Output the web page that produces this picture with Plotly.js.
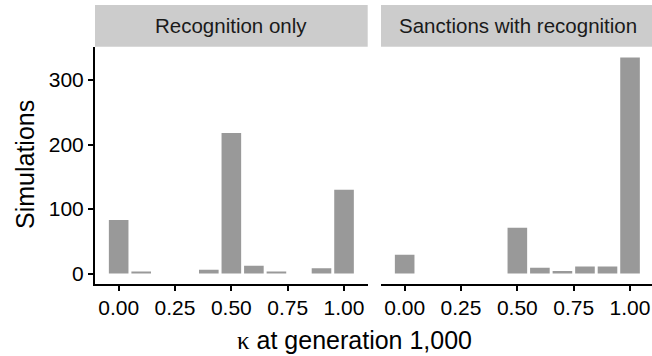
<!DOCTYPE html>
<html>
<head>
<meta charset="utf-8">
<script src="https://cdn.plot.ly/plotly-3.0.1.min.js"></script>
<style>
  html, body { margin: 0; padding: 0; background: #fff; }
  #chart { width: 652px; height: 356px; }
</style>
</head>
<body>
<div id="chart"></div>
<script>
// Histogram bins of kappa at generation 1,000 (bin centres)
const kappaBins = [0.0, 0.1, 0.2, 0.3, 0.4, 0.5, 0.6, 0.7, 0.8, 0.9, 1.0];

// Number of simulations per bin, one series per condition
const recognitionOnly = [83, 3, 0, 0, 6, 218, 12, 3, 0, 8, 130];
const sanctionsWithRecognition = [29, 0, 0, 0, 0, 71, 9, 4, 11, 11, 335];

const panelTitles = ["Recognition only", "Sanctions with recognition"];
const xTickVals = [0, 0.25, 0.5, 0.75, 1];
const xTickText = ["0.00", "0.25", "0.50", "0.75", "1.00"];
const yTickVals = [0, 100, 200, 300];

const W = 652, H = 356;
const px = v => v / W;          // horizontal pixel -> paper fraction
const py = v => (H - v) / H;    // vertical pixel (from top) -> paper fraction

const FONT = "Liberation Sans, Arial, Helvetica, sans-serif";
const barColor = "#999999";

const traces = [
  { type: "bar", x: kappaBins, y: recognitionOnly, xaxis: "x", yaxis: "y",
    marker: { color: barColor, line: { width: 0 } }, hoverinfo: "x+y" },
  { type: "bar", x: kappaBins, y: sanctionsWithRecognition, xaxis: "x2", yaxis: "y2",
    marker: { color: barColor, line: { width: 0 } }, hoverinfo: "x+y" }
];

const panelTop = 46.7, panelBottom = 284.3;
const stripTop = 5;
const p1 = [95, 367.7], p2 = [381, 652];
const xUnit = (p1[1] - p1[0]) / 1.21;   // pixels per kappa unit
const x2Max = -0.105 + (p2[1] - p2[0]) / xUnit;

const xAxisCommon = {
  tickmode: "array", tickvals: xTickVals, ticktext: xTickText,
  showgrid: false, zeroline: false,
  showline: true, linecolor: "#000", linewidth: 2,
  ticks: "outside", ticklen: 5, tickwidth: 2, tickcolor: "#000",
  tickfont: { family: FONT, size: 21, color: "#000" },
  ticklabelstandoff: -2,
  fixedrange: true
};

const yAxisCommon = {
  range: [-16.75, 351.75], showgrid: false, zeroline: false,
  domain: [py(panelBottom), py(panelTop)], fixedrange: true
};

const layout = {
  width: W, height: H,
  margin: { l: 0, r: 0, t: 0, b: 0 },
  paper_bgcolor: "#fff", plot_bgcolor: "#fff",
  showlegend: false,
  bargap: 0.13,
  xaxis: Object.assign({}, xAxisCommon, {
    domain: [px(p1[0]), px(p1[1])], range: [-0.105, 1.105], anchor: "y"
  }),
  xaxis2: Object.assign({}, xAxisCommon, {
    domain: [px(p2[0]), px(p2[1])], range: [-0.105, x2Max], anchor: "y2"
  }),
  yaxis: Object.assign({}, yAxisCommon, {
    anchor: "x", tickmode: "array", tickvals: yTickVals,
    showline: true, linecolor: "#000", linewidth: 2,
    ticks: "outside", ticklen: 5, tickwidth: 2, tickcolor: "#000",
    tickfont: { family: FONT, size: 21, color: "#000" }
  }),
  yaxis2: Object.assign({}, yAxisCommon, {
    anchor: "x2", matches: "y", showline: false, showticklabels: false, ticks: ""
  }),
  shapes: [p1, p2].map(p => ({
    type: "rect", xref: "paper", yref: "paper",
    x0: px(p[0]), x1: px(p[1]), y0: py(panelTop), y1: py(stripTop),
    fillcolor: "#cccccc", line: { width: 0 }, layer: "below"
  })),
  annotations: [
    { text: panelTitles[0], xref: "paper", yref: "paper",
      x: px((p1[0] + p1[1]) / 2), y: py((stripTop + panelTop) / 2),
      xanchor: "center", yanchor: "middle", showarrow: false,
      font: { family: FONT, size: 20.5, color: "#1a1a1a" } },
    { text: panelTitles[1], xref: "paper", yref: "paper",
      x: px((p2[0] + 655) / 2), y: py((stripTop + panelTop) / 2),
      xanchor: "center", yanchor: "middle", showarrow: false,
      font: { family: FONT, size: 20.5, color: "#1a1a1a" } },
    { text: '<span style="font-family:Liberation Serif, serif">κ</span> at generation 1,000',
      xref: "paper", yref: "paper", x: px(354), y: py(340),
      xanchor: "center", yanchor: "middle", showarrow: false,
      font: { family: FONT, size: 25, color: "#000" } },
    { text: "Simulations", xref: "paper", yref: "paper",
      x: px(25), y: py(165), textangle: -90,
      xanchor: "center", yanchor: "middle", showarrow: false,
      font: { family: FONT, size: 25, color: "#000" } }
  ]
};

Plotly.newPlot("chart", traces, layout, { displayModeBar: false, staticPlot: true });
</script>
</body>
</html>
